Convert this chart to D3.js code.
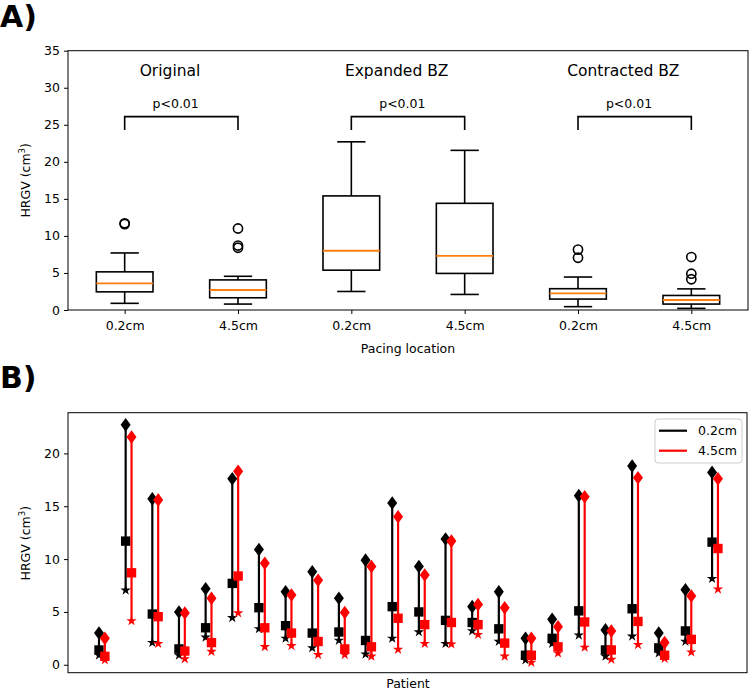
<!DOCTYPE html>
<html>
<head>
<meta charset="utf-8">
<script src="https://cdn.jsdelivr.net/npm/d3@7"></script>
<style>
  body { margin: 0; background: #fff; }
  text { font-family: "DejaVu Sans", sans-serif; fill: #000; }
</style>
</head>
<body>
<script>
// scenario names and pacing sites
const groups = ["Original", "Expanded BZ", "Contracted BZ"];
const pacing = ["0.2cm", "4.5cm"];
const patients = [1, 2, 3, 4, 5, 6, 7, 8, 9, 10, 11, 12, 13, 14, 15, 16, 17, 18, 19, 20, 21, 22, 23, 24];

// HRGV per patient (cm^3), 0.2cm / 4.5cm pacing
const origNear = [1.4, 11.7, 4.8, 1.5, 3.5, 7.7, 5.4, 3.7, 3.0, 3.1, 2.3, 5.5, 5.0, 4.2, 4.0, 3.4, 0.9, 2.5, 5.1, 1.4, 5.3, 1.6, 3.2, 11.6];
const origFar  = [0.8, 8.7, 4.55, 1.3, 2.1, 8.4, 3.5, 3.0, 2.2, 1.5, 1.7, 4.4, 3.8, 4.0, 3.8, 2.05, 0.9, 1.7, 4.05, 1.4, 4.1, 0.9, 2.4, 11.0];
const expNear  = [3.0, 22.7, 15.7, 5.0, 7.2, 17.6, 10.9, 6.9, 8.8, 6.3, 9.9, 15.3, 9.3, 11.9, 5.5, 6.9, 2.5, 4.3, 16.0, 3.3, 18.8, 3.0, 7.1, 18.2];
const expFar   = [2.5, 21.55, 15.6, 4.9, 6.3, 18.3, 9.6, 6.6, 8.0, 4.95, 9.3, 14.0, 8.5, 11.7, 5.7, 5.4, 2.5, 3.6, 15.9, 3.2, 17.7, 2.1, 6.5, 17.6];
const conNear  = [0.9, 7.05, 2.1, 0.9, 2.6, 4.45, 3.4, 2.5, 1.6, 2.3, 1.0, 2.5, 3.1, 2.0, 3.2, 2.2, 0.45, 2.0, 2.8, 0.8, 2.7, 1.1, 2.2, 8.15];
const conFar   = [0.45, 4.15, 2.0, 0.55, 1.25, 4.9, 1.7, 1.8, 0.95, 0.95, 0.8, 1.45, 2.0, 1.95, 2.85, 0.8, 0.22, 1.1, 1.65, 0.5, 1.9, 0.6, 1.2, 7.15];

const yTicksA = [0, 5, 10, 15, 20, 25, 30, 35];
const yTicksB = [0, 5, 10, 15, 20];
const pLabel = "p<0.01";

const svg = d3.select("body").append("svg")
  .attr("width", 750)
  .attr("height", 690);

// ---------- panel A: box plots ----------
const boxSeries = [origNear, origFar, expNear, expFar, conNear, conFar];
const xA = d3.scaleLinear().domain([0.5, 6.5]).range([68, 748]);
const yA = d3.scaleLinear().domain([0, 35]).range([310, 50.7]);

svg.append("text").attr("x", 0).attr("y", 27)
  .style("font-size", "30px").style("font-weight", "bold").text("A)");

const gA = svg.append("g");

gA.append("g")
  .attr("transform", "translate(68,0)")
  .call(d3.axisLeft(yA).tickValues(yTicksA).tickSize(4).tickPadding(4))
  .call(g => g.select(".domain").remove())
  .call(g => g.selectAll("text").style("font-size", "12.5px").style("font-family", "DejaVu Sans"));

gA.append("g")
  .attr("transform", "translate(0,310)")
  .call(d3.axisBottom(xA).tickValues([1, 2, 3, 4, 5, 6]).tickSize(4).tickPadding(7)
    .tickFormat(d => pacing[(d - 1) % 2]))
  .call(g => g.select(".domain").remove())
  .call(g => g.selectAll("text").style("font-size", "12.5px").style("font-family", "DejaVu Sans"));

boxSeries.forEach((vals, i) => {
  const pos = i + 1;
  const s = vals.slice().sort(d3.ascending);
  const q1 = d3.quantile(s, 0.25), med = d3.quantile(s, 0.5), q3 = d3.quantile(s, 0.75);
  const iqr = q3 - q1;
  const lo = d3.min(s.filter(v => v >= q1 - 1.5 * iqr));
  const hi = d3.max(s.filter(v => v <= q3 + 1.5 * iqr));
  const fliers = s.filter(v => v < lo || v > hi);
  const bw = xA(pos + 0.25) - xA(pos - 0.25);
  const cw = bw / 2;
  const g = gA.append("g").attr("stroke", "#000").attr("stroke-width", 1.6).attr("fill", "none");
  g.append("line").attr("x1", xA(pos)).attr("x2", xA(pos)).attr("y1", yA(q1)).attr("y2", yA(lo));
  g.append("line").attr("x1", xA(pos)).attr("x2", xA(pos)).attr("y1", yA(q3)).attr("y2", yA(hi));
  g.append("line").attr("x1", xA(pos) - cw / 2).attr("x2", xA(pos) + cw / 2).attr("y1", yA(lo)).attr("y2", yA(lo));
  g.append("line").attr("x1", xA(pos) - cw / 2).attr("x2", xA(pos) + cw / 2).attr("y1", yA(hi)).attr("y2", yA(hi));
  g.append("rect").attr("x", xA(pos) - bw / 2).attr("width", bw)
    .attr("y", yA(q3)).attr("height", yA(q1) - yA(q3));
  g.append("line").attr("x1", xA(pos) - bw / 2).attr("x2", xA(pos) + bw / 2)
    .attr("y1", yA(med)).attr("y2", yA(med)).attr("stroke", "#ff7f0e").attr("stroke-width", 1.8);
  g.selectAll("circle.flier").data(fliers).join("circle")
    .attr("class", "flier")
    .attr("cx", xA(pos)).attr("cy", d => yA(d)).attr("r", 4.6).attr("stroke-width", 1.6);
});

// group titles and significance brackets
groups.forEach((name, k) => {
  const a = 2 * k + 1, b = 2 * k + 2;
  gA.append("text").attr("x", xA(a + 0.4)).attr("y", yA(32.3) + 5.5)
    .attr("text-anchor", "middle").style("font-size", "15.5px").text(name);
  gA.append("text").attr("x", xA(a + 0.45)).attr("y", yA(27.9) + 4.5)
    .attr("text-anchor", "middle").style("font-size", "12.5px").text(pLabel);
  gA.append("path")
    .attr("d", `M${xA(a)},${yA(24.3)}V${yA(26.1)}H${xA(b)}V${yA(24.3)}`)
    .attr("fill", "none").attr("stroke", "#000").attr("stroke-width", 1.6);
});

gA.append("rect").attr("x", 68).attr("y", yA(35)).attr("width", 680).attr("height", 310 - yA(35))
  .attr("fill", "none").attr("stroke", "#000").attr("stroke-width", 1);

gA.append("text").attr("x", 408).attr("y", 353).attr("text-anchor", "middle")
  .style("font-size", "12.5px").text("Pacing location");

gA.append("text").attr("transform", `translate(30,${yA(17.5)}) rotate(-90)`)
  .attr("text-anchor", "middle").style("font-size", "12.5px")
  .html("HRGV (cm<tspan dy='-5' font-size='8.5px'>3</tspan><tspan dy='5'>)</tspan>");

// ---------- panel B: per patient ----------
svg.append("text").attr("x", 0).attr("y", 388)
  .style("font-size", "30px").style("font-weight", "bold").text("B)");

const xB = d3.scaleLinear().domain([-0.163, 25.31]).range([68, 747]);
const yB = d3.scaleLinear().domain([-0.75, 23.85]).range([672.7, 412.7]);

const gB = svg.append("g");

gB.append("g")
  .attr("transform", "translate(68,0)")
  .call(d3.axisLeft(yB).tickValues(yTicksB).tickSize(4).tickPadding(4))
  .call(g => g.select(".domain").remove())
  .call(g => g.selectAll("text").style("font-size", "12.5px").style("font-family", "DejaVu Sans"));

const diamond = (x, y) => `M${x},${y - 6.8}L${x + 5},${y}L${x},${y + 6.8}L${x - 5},${y}Z`;
const star = d3.symbol(d3.symbolStar, 34);
const square = d3.symbol(d3.symbolSquare, 88);

const sets = [
  { color: "#000", off: 0, sq: origNear, di: expNear, st: conNear },
  { color: "#ff0000", off: 0.22, sq: origFar, di: expFar, st: conFar }
];

patients.forEach((p, i) => {
  sets.forEach(set => {
    const x = xB(p + set.off);
    const vals = [set.sq[i], set.di[i], set.st[i]];
    gB.append("line").attr("x1", x).attr("x2", x)
      .attr("y1", yB(d3.min(vals))).attr("y2", yB(d3.max(vals)))
      .attr("stroke", set.color).attr("stroke-width", 2.2);
    gB.append("path").attr("d", diamond(x, yB(set.di[i]))).attr("fill", set.color);
    gB.append("path").attr("d", square()).attr("transform", `translate(${x},${yB(set.sq[i])})`).attr("fill", set.color);
    gB.append("path").attr("d", star()).attr("transform", `translate(${x},${yB(set.st[i])})`).attr("fill", set.color);
  });
});

gB.append("rect").attr("x", 68).attr("y", 412.7).attr("width", 679).attr("height", 260)
  .attr("fill", "none").attr("stroke", "#000").attr("stroke-width", 1);

gB.append("text").attr("x", 408).attr("y", 688).attr("text-anchor", "middle")
  .style("font-size", "12.5px").text("Patient");

gB.append("text").attr("transform", `translate(30,${yB(11.5)}) rotate(-90)`)
  .attr("text-anchor", "middle").style("font-size", "12.5px")
  .html("HRGV (cm<tspan dy='-5' font-size='8.5px'>3</tspan><tspan dy='5'>)</tspan>");

// legend
const lg = gB.append("g").attr("transform", "translate(655,419)");
lg.append("rect").attr("width", 87).attr("height", 44).attr("rx", 3)
  .attr("fill", "#fff").attr("fill-opacity", 0.8).attr("stroke", "#ccc");
pacing.forEach((lab, k) => {
  const c = sets[k].color;
  lg.append("line").attr("x1", 4).attr("x2", 32).attr("y1", 11.7 + 20 * k).attr("y2", 11.7 + 20 * k)
    .attr("stroke", c).attr("stroke-width", 2.2);
  lg.append("text").attr("x", 43).attr("y", 16.2 + 20 * k).style("font-size", "12.5px").text(lab);
});
</script>
</body>
</html>
